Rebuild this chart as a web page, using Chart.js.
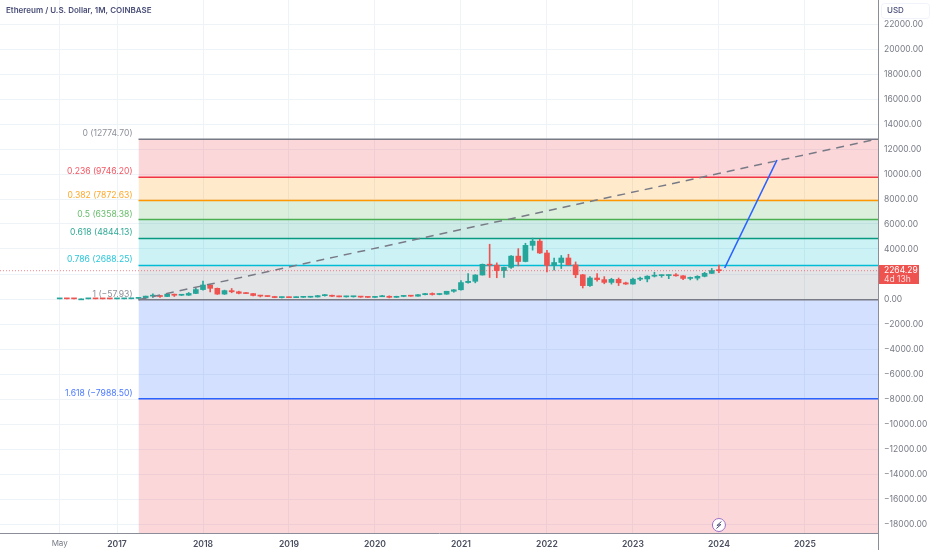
<!DOCTYPE html>
<html>
<head>
<meta charset="utf-8">
<style>
  html, body { margin: 0; padding: 0; background: #fff; }
  #chart { display: block; }
</style>
<script src="https://cdn.jsdelivr.net/npm/chart.js@4"></script>
</head>
<body>
<canvas id="chart" width="932" height="550"></canvas>
<script>
// monthly candles, first one is May 2016 (month -8, month 0 = Jan 2017)
const firstMonth = -8;
const opens = [10, 14, 12, 11, 11, 13, 11, 8.6,
  8, 10.7, 16, 50, 80, 230, 280, 200, 385, 300, 305, 445,
  755, 1120, 855, 395, 670, 577, 455, 433, 283, 233, 198, 113,
  133, 107, 136, 141, 162, 268, 290, 218, 172, 180, 182, 152,
  129, 180, 218, 133, 207, 231, 225, 345, 433, 360, 386, 618,
  738, 1314, 1417, 1919, 2773, 2707, 2275, 2530, 3430, 3000, 4290, 4630,
  3680, 2690, 2920, 3280, 2730, 1940, 1070, 1680, 1550, 1330, 1570, 1295,
  1197, 1585, 1605, 1825, 1870, 1875, 1933, 1855, 1645, 1670, 1815, 2050,
  2280];
const highs = [15, 21, 15, 13, 15, 14, 12, 10,
  11.5, 17, 55, 84, 232, 420, 300, 390, 395, 350, 520, 880,
  1430, 1160, 880, 710, 840, 625, 515, 440, 300, 240, 220, 160,
  160, 165, 150, 185, 285, 365, 320, 240, 225, 200, 195, 155,
  185, 288, 253, 227, 247, 255, 350, 445, 490, 420, 620, 757,
  1475, 2040, 1945, 2800, 4380, 2890, 2560, 3470, 4030, 4460, 4870, 4780,
  3900, 3280, 3480, 3580, 2965, 1975, 1785, 2030, 1790, 1660, 1680, 1350,
  1680, 1745, 1860, 2140, 1930, 1935, 2030, 1870, 1760, 1865, 2135, 2445,
  2715];
const lows = [9, 13, 10, 9, 10, 10, 8, 7,
  7.9, 10.3, 15, 42, 76, 130, 130, 190, 200, 275, 285, 420,
  710, 570, 365, 365, 500, 410, 420, 250, 165, 190, 100, 82,
  100, 102, 125, 140, 155, 230, 190, 165, 150, 150, 130, 118,
  127, 178, 90, 125, 180, 215, 222, 335, 310, 335, 373, 540,
  714, 1270, 1290, 1910, 1720, 1700, 1720, 2450, 2650, 2970, 3910, 3640,
  2160, 2300, 2440, 2710, 1705, 880, 1000, 1420, 1220, 1190, 1075, 1165,
  1190, 1460, 1370, 1760, 1740, 1625, 1830, 1545, 1530, 1520, 1770, 2040,
  2100];
const closes = [14, 12, 11, 11, 13, 11, 8.6, 8,
  10.7, 16, 50, 80, 230, 280, 200, 385, 300, 305, 445, 755,
  1120, 855, 395, 670, 577, 455, 433, 283, 233, 198, 113, 133,
  107, 136, 141, 162, 268, 290, 218, 172, 180, 182, 152, 129,
  180, 218, 133, 207, 231, 225, 345, 433, 360, 386, 618, 738,
  1314, 1417, 1919, 2773, 2707, 2275, 2530, 3430, 3000, 4290, 4630, 3680,
  2690, 2920, 3280, 2730, 1940, 1070, 1680, 1550, 1330, 1570, 1295, 1197,
  1585, 1605, 1825, 1870, 1875, 1933, 1855, 1645, 1670, 1815, 2050, 2280,
  2264.29];

// fib retracement levels, top to bottom
const fibRatios = ['0', '0.236', '0.382', '0.5', '0.618', '0.786', '1', '1.618'];
const fibPrices = [12774.70, 9746.20, 7872.63, 6358.38, 4844.13, 2688.25, -57.93, -7988.50];
const fibColors = ['#787b86', '#f23645', '#ff9800', '#4caf50', '#089981', '#00bcd4', '#787b86', '#2962ff'];
const fibFills = ['rgba(242,54,69,0.2)', 'rgba(255,152,0,0.2)', 'rgba(76,175,80,0.2)', 'rgba(8,153,129,0.2)',
  'rgba(0,188,212,0.2)', 'rgba(120,123,134,0.2)', 'rgba(41,98,255,0.2)', 'rgba(242,54,69,0.2)'];
const fibStartMonth = 3;

const xTickMonths = [-8, 0, 12, 24, 36, 48, 60, 72, 84, 96];
const xTickLabels = ['May', '2017', '2018', '2019', '2020', '2021', '2022', '2023', '2024', '2025'];
const yTickValues = [22000, 20000, 18000, 16000, 14000, 12000, 10000, 8000, 6000, 4000, 2000, 0,
  -2000, -4000, -6000, -8000, -10000, -12000, -14000, -16000, -18000];

// drawn lines
const forecastMonths = [84.8, 92.1];
const forecastPrices = [2480, 11120];
const lastPrice = 2264.29;

const xMin = -16.33, xMax = 106.2;
const yMin = -18720, yMax = 23920;

const UP = '#26a69a', DOWN = '#ef5350';
const candleColors = opens.map((o, i) => closes[i] >= o ? UP : DOWN);

const datasets = [];

// fib fills and lines
fibPrices.forEach((price, i) => {
  datasets.push({
    type: 'line',
    data: [{ x: fibStartMonth, y: price }, { x: xMax, y: price }],
    borderColor: fibColors[i],
    borderWidth: 1.5,
    pointRadius: 0,
    fill: '+1',
    backgroundColor: fibFills[i],
    order: 10
  });
});
datasets.push({
  type: 'line',
  data: [{ x: fibStartMonth, y: yMin }, { x: xMax, y: yMin }],
  borderWidth: 0,
  pointRadius: 0,
  fill: false,
  order: 10
});

// wicks then bodies
datasets.push({
  type: 'bar',
  data: lows.map((l, i) => ({ x: firstMonth + i, y: [l, highs[i]] })),
  backgroundColor: candleColors,
  barThickness: 1,
  grouped: false,
  order: 5
});
datasets.push({
  type: 'bar',
  data: opens.map((o, i) => ({ x: firstMonth + i, y: [o, closes[i]] })),
  backgroundColor: candleColors,
  barThickness: 5,
  minBarLength: 1,
  grouped: false,
  order: 4
});

// dashed trend line of the fib tool
datasets.push({
  type: 'line',
  data: [{ x: fibStartMonth, y: fibPrices[6] }, { x: xMax - 0.3, y: fibPrices[0] }],
  borderColor: '#787b86',
  borderWidth: 1.5,
  borderDash: [8, 6],
  pointRadius: 0,
  order: 3
});

// last price line
datasets.push({
  type: 'line',
  data: [{ x: xMin, y: lastPrice }, { x: xMax, y: lastPrice }],
  borderColor: 'rgba(242,54,69,0.6)',
  borderWidth: 1,
  borderDash: [1, 2],
  pointRadius: 0,
  order: 2
});

// blue forecast line
datasets.push({
  type: 'line',
  data: forecastMonths.map((m, i) => ({ x: m, y: forecastPrices[i] })),
  borderColor: '#2962ff',
  borderWidth: 1.6,
  pointRadius: 0,
  order: 1
});

const overlay = {
  id: 'overlay',
  afterDraw(chart) {
    const { ctx, scales: { x, y }, chartArea } = chart;
    ctx.save();

    // right axis line runs past the time axis
    ctx.strokeStyle = '#8b8e99';
    ctx.lineWidth = 1;
    ctx.beginPath();
    ctx.moveTo(chartArea.right + 0.5, 0);
    ctx.lineTo(chartArea.right + 0.5, 550);
    ctx.stroke();

    // fib labels
    ctx.font = '8.6px Inter';
    ctx.textAlign = 'right';
    ctx.textBaseline = 'alphabetic';
    ctx.globalAlpha = 0.85;
    const labelRight = x.getPixelForValue(fibStartMonth) - 6;
    fibPrices.forEach((price, i) => {
      ctx.fillStyle = fibColors[i];
      const text = fibRatios[i] + ' (' + price.toFixed(2).replace('-', '\u2212') + ')';
      ctx.fillText(text, labelRight, y.getPixelForValue(price) - 3);
    });
    ctx.globalAlpha = 1;

    // title
    ctx.textAlign = 'left';
    ctx.fillStyle = '#4a4f78';
    ctx.font = '600 8px Inter';
    ctx.fillText('Ethereum / U.S. Dollar, 1M, COINBASE', 6, 13);

    // currency badge
    ctx.fillStyle = '#fff';
    ctx.strokeStyle = '#f0f3fa';
    ctx.beginPath();
    ctx.roundRect(881.5, 3.5, 48, 15, 3);
    ctx.fill();
    ctx.stroke();
    ctx.fillStyle = '#4a4f78';
    ctx.font = '500 8px Inter';
    ctx.fillText('USD', 887, 13);

    // last price tag
    ctx.fillStyle = '#ef5350';
    ctx.fillRect(879, 265, 40, 19);
    ctx.fillStyle = '#fff';
    ctx.font = '8.5px Inter';
    ctx.fillText(lastPrice.toFixed(2), 884, 273);
    ctx.fillStyle = 'rgba(255,255,255,0.8)';
    ctx.fillText('4d 13h', 884, 282);

    // lightning marker
    const mx = x.getPixelForValue(84), my = 525;
    ctx.beginPath();
    ctx.arc(mx, my, 6.5, 0, Math.PI * 2);
    ctx.fillStyle = '#fff';
    ctx.fill();
    ctx.strokeStyle = '#9c6fc4';
    ctx.lineWidth = 1;
    ctx.stroke();
    ctx.beginPath();
    ctx.moveTo(mx + 2.5, my - 3.5);
    ctx.lineTo(mx - 2, my + 0.5);
    ctx.lineTo(mx + 2, my - 0.5);
    ctx.lineTo(mx - 2.5, my + 3.5);
    ctx.strokeStyle = '#4a4f78';
    ctx.stroke();

    ctx.restore();
  }
};

const isMonthTick = ctx => ctx.tick && ctx.tick.value === xTickMonths[0];

// plot area has to sit flush with the canvas, so drop the tick label padding
const noPadding = scale => {
  scale.paddingTop = scale.paddingBottom = scale.paddingLeft = scale.paddingRight = 0;
};

new Chart(document.getElementById('chart'), {
  type: 'bar',
  data: { datasets },
  plugins: [overlay],
  options: {
    responsive: false,
    animation: false,
    events: [],
    layout: { padding: 0, autoPadding: false },
    plugins: { legend: { display: false }, tooltip: { enabled: false } },
    scales: {
      x: {
        type: 'linear',
        min: xMin,
        max: xMax,
        offset: false,
        afterBuildTicks: scale => {
          scale.ticks = xTickMonths.map(v => ({ value: v }));
        },
        afterFit: scale => { scale.height = 17; noPadding(scale); },
        grid: {
          offset: false,
          color: '#eef3f8',
          drawTicks: false,
          tickLength: 0
        },
        border: { color: '#8b8e99', width: 1 },
        ticks: {
          autoSkip: false,
          maxRotation: 0,
          padding: 6,
          callback: value => xTickLabels[xTickMonths.indexOf(value)],
          color: ctx => isMonthTick(ctx) ? '#787b86' : '#4a4e5e',
          font: ctx => isMonthTick(ctx)
            ? { family: 'Inter', size: 8 }
            : { family: 'Inter', size: 8.6, weight: '600' }
        }
      },
      y: {
        type: 'linear',
        position: 'right',
        min: yMin,
        max: yMax,
        afterBuildTicks: scale => {
          scale.ticks = yTickValues.map(v => ({ value: v }));
        },
        afterFit: scale => { scale.width = 54; noPadding(scale); },
        grid: {
          color: '#eef3f8',
          drawTicks: false,
          tickLength: 0
        },
        border: { display: false },
        ticks: {
          autoSkip: false,
          padding: 6,
          color: '#787b86',
          font: { family: 'Inter', size: 8.5 },
          callback: value => value.toFixed(2).replace('-', '\u2212')
        }
      }
    }
  }
});
</script>
</body>
</html>
